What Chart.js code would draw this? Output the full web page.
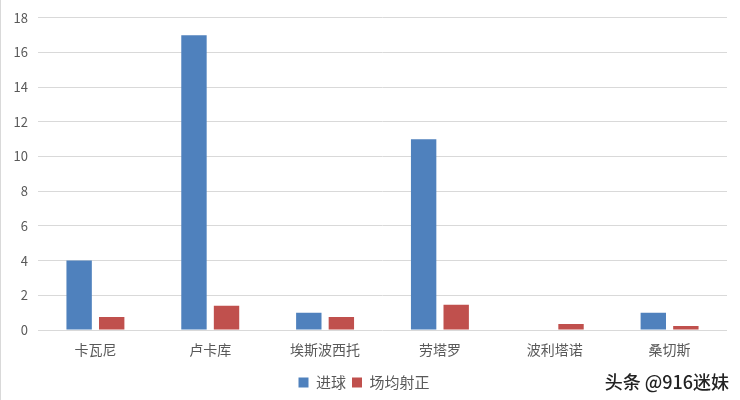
<!DOCTYPE html>
<html>
<head>
<meta charset="utf-8">
<script src="https://cdn.jsdelivr.net/npm/chart.js@4/dist/chart.umd.min.js"></script>
<style>
  html, body { margin: 0; padding: 0; background: #fff; }
  #wrap { width: 740px; height: 400px; position: relative; box-sizing: border-box; border-left: 1px solid #d9d9d9; }
</style>
</head>
<body>
<div id="wrap"><canvas id="chart"></canvas></div>
<script>
const players = ['卡瓦尼', '卢卡库', '埃斯波西托', '劳塔罗', '波利塔诺', '桑切斯'];
const goals = [4, 17, 1, 11, 0, 1];
const shotsOnTarget = [0.75, 1.4, 0.75, 1.45, 0.35, 0.23];
const yTicks = [0, 2, 4, 6, 8, 10, 12, 14, 16, 18];

const FONT = '"Noto Sans CJK SC", "Noto Sans", sans-serif';

// watermark in the bottom-right corner
const watermark = {
    id: 'watermark',
    afterDraw(chart) {
        const ctx = chart.ctx;
        ctx.save();
        ctx.font = '500 18px ' + FONT;
        ctx.textAlign = 'right';
        ctx.textBaseline = 'middle';
        ctx.fillStyle = '#222';
        ctx.shadowColor = 'rgba(255,255,255,0.9)';
        ctx.shadowBlur = 2;
        ctx.fillText('头条 @916迷妹', 728, 382);
        ctx.restore();
    }
};

const ctx = document.getElementById('chart').getContext('2d');
new Chart(ctx, {
    type: 'bar',
    data: {
        labels: players,
        datasets: [{
            label: '进球',
            data: goals,
            backgroundColor: '#4F81BD'
        }, {
            label: '场均射正',
            data: shotsOnTarget,
            backgroundColor: '#C0504D'
        }]
    },
    options: {
        responsive: true,
        maintainAspectRatio: false,
        animation: false,
        layout: { padding: { top: 7, right: 13, left: 0, bottom: 0 } },
        datasets: {
            bar: { categoryPercentage: 0.567, barPercentage: 0.78 }
        },
        scales: {
            x: {
                grid: { display: false },
                border: { display: false },
                ticks: { color: '#595959', font: { family: FONT, size: 14 }, padding: 3 },
                afterFit(scale) { scale.height = 39; }
            },
            y: {
                min: 0,
                max: 18,
                afterBuildTicks(scale) { scale.ticks = yTicks.map(v => ({ value: v })); },
                grid: { color: '#d9d9d9', drawTicks: false },
                border: { display: false },
                ticks: { color: '#595959', font: { family: FONT, size: 13 }, padding: 10 },
                afterFit(scale) { scale.width = 37; }
            }
        },
        plugins: {
            legend: {
                position: 'bottom',
                labels: {
                    color: '#595959',
                    font: { family: FONT, size: 15 },
                    boxWidth: 10,
                    boxHeight: 10,
                    padding: 6
                }
            },
            tooltip: { enabled: false }
        }
    },
    plugins: [watermark]
});
</script>
</body>
</html>
